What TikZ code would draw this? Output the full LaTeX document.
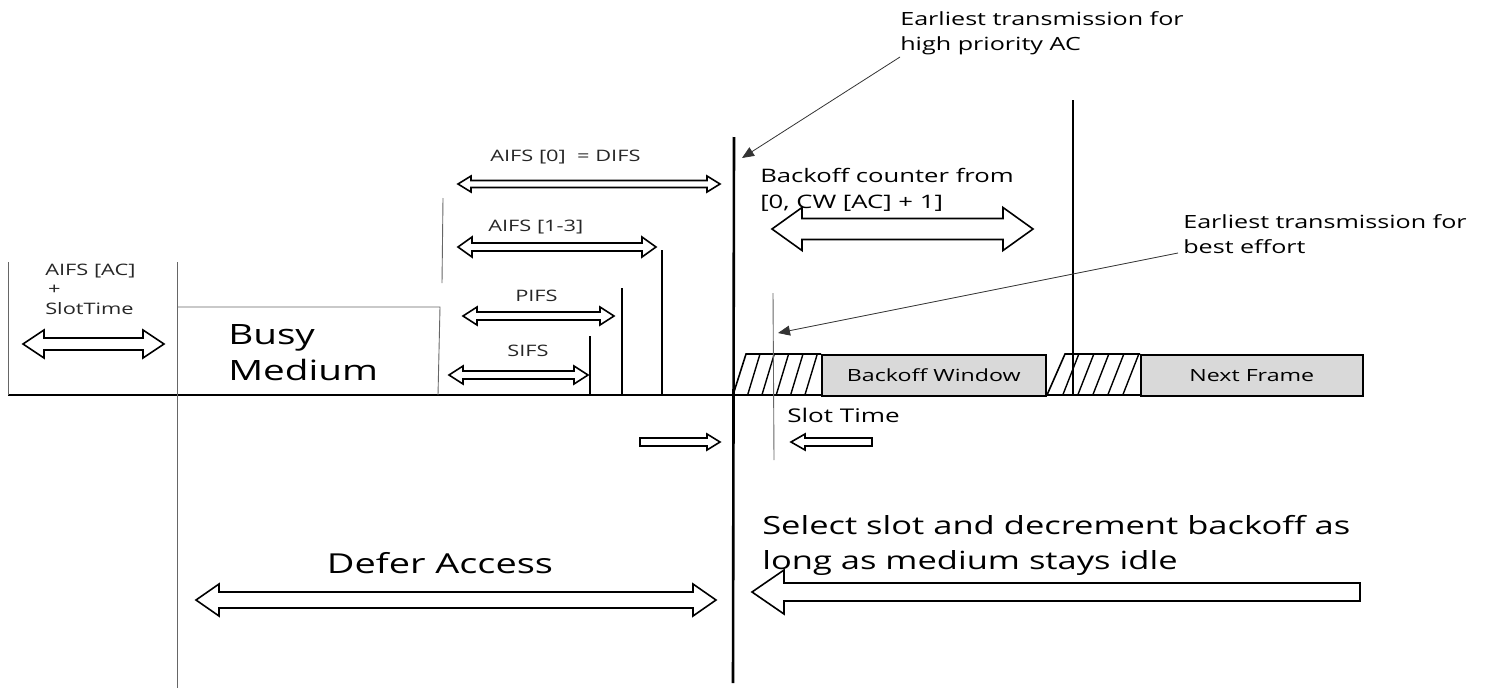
\documentclass[tikz,border=0pt]{standalone}
\usepackage{fontspec}
\setmainfont{Open Sans}
\usetikzlibrary{arrows.meta}

% Outlined block arrows, drawn as polygons.
% \blockdbl{x1}{x2}{y}{head half}{shaft half}{head length}
\newcommand\blockdbl[6]{%
  \draw[blockarrow] (#1,#3) -- (#1+#6,#3-#4) -- (#1+#6,#3-#5) -- (#2-#6,#3-#5)
    -- (#2-#6,#3-#4) -- (#2,#3) -- (#2-#6,#3+#4) -- (#2-#6,#3+#5)
    -- (#1+#6,#3+#5) -- (#1+#6,#3+#4) -- cycle;}
% \blockleft{tip x}{tail x}{y}{head half}{shaft half}{head length}
\newcommand\blockleft[6]{%
  \draw[blockarrow] (#1,#3) -- (#1+#6,#3-#4) -- (#1+#6,#3-#5) -- (#2,#3-#5)
    -- (#2,#3+#5) -- (#1+#6,#3+#5) -- (#1+#6,#3+#4) -- cycle;}
% \blockright{tail x}{tip x}{y}{head half}{shaft half}{head length}
\newcommand\blockright[6]{%
  \draw[blockarrow] (#2,#3) -- (#2-#6,#3-#4) -- (#2-#6,#3-#5) -- (#1,#3-#5)
    -- (#1,#3+#5) -- (#2-#6,#3+#5) -- (#2-#6,#3+#4) -- cycle;}

\tikzset{
  blockarrow/.style={draw=black, line width=1.6pt, fill=white, line join=miter},
  thickbar/.style={line width=2.6pt, black},
  thinline/.style={line width=0.9pt, black!60},
  framebox/.style={draw=black, line width=1.6pt, fill=black!15},
  hatchline/.style={line width=1.4pt, black},
  pointer/.style={line width=0.8pt, black!80, -{Triangle[length=12pt,width=10pt]}},
  wide/.style={xscale=1.38, inner sep=0pt, align=left},
  smalltxt/.style={wide, font=\fontsize{15.8}{19.5}\selectfont, text=black!85},
  midtxt/.style={wide, font=\fontsize{18.2}{25}\selectfont},
  bigtxt/.style={wide, font=\fontsize{25}{35}\selectfont},
  boxtxt/.style={wide, font=\fontsize{16.8}{20}\selectfont},
}

\begin{document}
\begin{tikzpicture}[x=1pt, y=-1pt]
\useasboundingbox (0,0) rectangle (1487,688);

% ---- time axis and the fixed boundary lines ----
\coordinate (axisL) at (8,395);
\coordinate (axisR) at (1362,395);
\draw[line width=2.6pt] (axisL) -- (axisR);

\draw[thinline] (8,262) -- (axisL);
\draw[thinline] (177,262) -- (177,688);

% busy medium outline
\draw[thinline] (177,307) -- (440,307) -- (438,395);
\draw[thinline] (443,198) -- (442,283);

% ---- gray frames ----
\node[framebox, minimum width=224pt, minimum height=41pt, anchor=north west,
      inner sep=0pt] (bw) at (821,354) {};
\node[boxtxt] (bwt) at (bw.center) {Backoff Window};
\node[framebox, minimum width=222pt, minimum height=41pt, anchor=north west,
      inner sep=0pt] (nf) at (1140,354) {};
\node[boxtxt] (nft) at (nf.center) {Next Frame};

% ---- hatched slot areas ----
\begin{scope}
  \clip (733,395) -- (746,354) -- (821,354) -- (821,395) -- cycle;
  \foreach \b in {747,761.3,775.6,790,804.3}
    \draw[hatchline] (\b,397) -- (\b+13.6,352);
\end{scope}
\draw[line width=1.6pt, line join=miter] (733,395) -- (746,354) -- (821,354);

\begin{scope}
  \clip (1047,395) -- (1065,354) -- (1140,354) -- (1140,395) -- cycle;
  \foreach \b in {1062,1077,1092,1107,1122}
    \draw[hatchline] (\b,397) -- (\b+17.6,352);
\end{scope}
\draw[line width=1.6pt, line join=miter] (1047,395) -- (1065,354) -- (1140,354);

% ---- IFS end bars ----
\draw[thickbar] (590,336) -- (590,395);
\draw[thickbar] (622,288) -- (622,395);
\draw[thickbar] (662,250) -- (662,395);

% ---- long vertical markers ----
\coordinate (hpTop) at (734,137);
\coordinate (hpBot) at (733,683);
\draw[thickbar] (hpTop) -- (hpBot);
\draw[thickbar] (1073,100) -- (1073,396);
\draw[thinline] (773,293) -- (774,460);

% ---- labels ----
\node[smalltxt, anchor=west] (aifsac) at (45,289)
  {AIFS [AC]\\\hspace*{2pt}+\\SlotTime};
\node[wide, font=\fontsize{28}{36}\selectfont, anchor=west]
  (busy) at (228,353) {Busy\\Medium};

\node[smalltxt, anchor=west] (l0) at (490,157) {AIFS [0]\ \ = DIFS};
\node[smalltxt, anchor=west] (l13) at (488,227) {AIFS [1-3]};
\node[smalltxt, anchor=west] (lp) at (515,296) {PIFS};
\node[smalltxt, anchor=west] (ls) at (507,351) {SIFS};

\node[midtxt, anchor=west] (hp) at (900,33)
  {Earliest transmission for\\high priority AC};
\node[midtxt, anchor=west] (be) at (1183,234)
  {Earliest transmission for\\best effort};
\node[wide, font=\fontsize{18.6}{26}\selectfont, anchor=west]
  (bc) at (760,190) {Backoff counter from\\{[0, CW [AC] + 1]}};
\node[wide, font=\fontsize{18.9}{22}\selectfont, anchor=west] (st) at (787,415) {Slot Time};

\node[wide, font=\fontsize{27.5}{35}\selectfont, anchor=center] (defer) at (440,563) {Defer Access};
\node[bigtxt, anchor=west] (sel) at (762,545)
  {Select slot and decrement backoff as\\long as medium stays idle};

% ---- pointers ----
\coordinate (hpFrom) at (900,57);
\coordinate (hpTo) at (742,158);
\draw[pointer] (hpFrom) -- (hpTo);
\coordinate (beFrom) at (1178,253);
\coordinate (beTo) at (778,333);
\draw[pointer] (beFrom) -- (beTo);

% ---- block arrows ----
\blockdbl{23}{164}{344}{14}{6}{21}
\blockdbl{458}{720}{184}{8}{3.5}{13}
\blockdbl{458}{656}{247}{10}{4}{14}
\blockdbl{463}{614}{316}{9}{4}{14}
\blockdbl{449}{588}{375}{9}{4}{14}
\blockdbl{772}{1033}{229}{21.5}{10.5}{30}
\blockright{640}{720}{442}{8}{4}{13}
\blockleft{791}{872}{442}{8}{4}{14}
\blockdbl{196}{716}{600}{16}{8}{23}
\blockleft{752}{1360}{592}{22}{9}{32}
\end{tikzpicture}
\end{document}
